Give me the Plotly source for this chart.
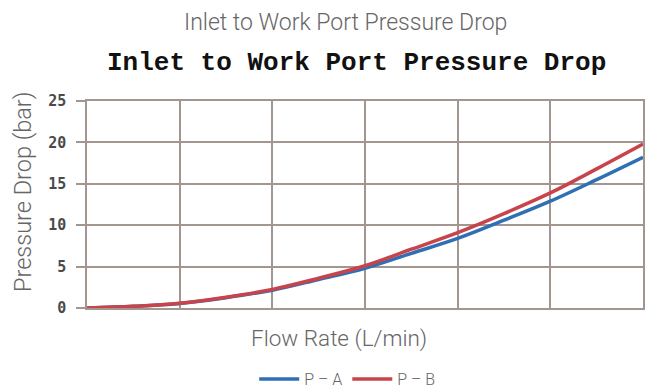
import plotly.graph_objects as go

# Flow rate samples (L/min) and pressure drop (bar) for each port path
flow_rate = [0, 5, 10, 15, 20, 25, 30, 35, 40, 45, 50, 55, 60]
p_to_a = [0, 0.2, 0.55, 1.25, 2.15, 3.45, 4.8, 6.6, 8.4, 10.6, 12.9, 15.5, 18.2]
p_to_b = [0, 0.2, 0.57, 1.3, 2.25, 3.6, 5.1, 7.1, 9.1, 11.4, 13.9, 16.8, 19.8]
y_ticks = [0, 5, 10, 15, 20, 25]

GRID = "#a3968f"
LIGHT = dict(family="Roboto", weight=300, color="#666666")

fig = go.Figure()
fig.add_trace(go.Scatter(x=flow_rate, y=p_to_a, name="P – A", mode="lines",
                         line=dict(color="#2f6fb4", width=3.5, shape="spline")))
fig.add_trace(go.Scatter(x=flow_rate, y=p_to_b, name="P – B", mode="lines",
                         line=dict(color="#c8444a", width=3.5, shape="spline")))

fig.update_layout(
    width=648, height=392,
    margin=dict(l=87, r=5, t=101, b=84, autoexpand=False),
    paper_bgcolor="white", plot_bgcolor="white",
    showlegend=True,
    legend=dict(orientation="h", x=0.468, xanchor="center", y=(308 - 379) / 207,
                yanchor="middle", font=dict(size=16, **LIGHT), itemwidth=40,
                bgcolor="rgba(0,0,0,0)", borderwidth=0),
    xaxis=dict(range=[0, 60], dtick=10, showticklabels=False, showgrid=True,
               gridcolor=GRID, gridwidth=1.5, showline=True, linecolor=GRID,
               linewidth=1.5, mirror=True, zeroline=False, ticks=""),
    yaxis=dict(range=[0, 25], tickvals=y_ticks, showgrid=True, gridcolor=GRID,
               gridwidth=1.5, showline=True, linecolor=GRID, linewidth=1.5,
               mirror=True, zeroline=False, ticks="outside", ticklen=9,
               tickcolor=GRID, tickwidth=1.5, ticklabelstandoff=7,
               tickfont=dict(family="DejaVu Sans Mono", size=15, weight="bold",
                             color="#4a4a4a")),
    annotations=[
        dict(text="Inlet to Work Port Pressure Drop", xref="paper", yref="paper",
             x=(345 - 87) / 556, y=(308 - 22) / 207, xanchor="center", yanchor="middle",
             showarrow=False, font=dict(size=23, **LIGHT)),
        dict(text="Inlet to Work Port Pressure Drop", xref="paper", yref="paper",
             x=(356 - 87) / 556, y=(308 - 63) / 207, xanchor="center", yanchor="middle",
             showarrow=False,
             font=dict(family="Liberation Mono", size=26, weight="bold", color="#111111")),
        dict(text="Flow Rate (L/min)", xref="paper", yref="paper",
             x=(339 - 87) / 556, y=(308 - 338) / 207, xanchor="center", yanchor="middle",
             showarrow=False, font=dict(size=22.5, **LIGHT)),
        dict(text="Pressure Drop (bar)", xref="paper", yref="paper",
             x=(23 - 87) / 556, y=(308 - 192) / 207, xanchor="center", yanchor="middle",
             textangle=-90, showarrow=False, font=dict(size=23.5, **LIGHT)),
    ],
)

fig.write_html("out.html")
